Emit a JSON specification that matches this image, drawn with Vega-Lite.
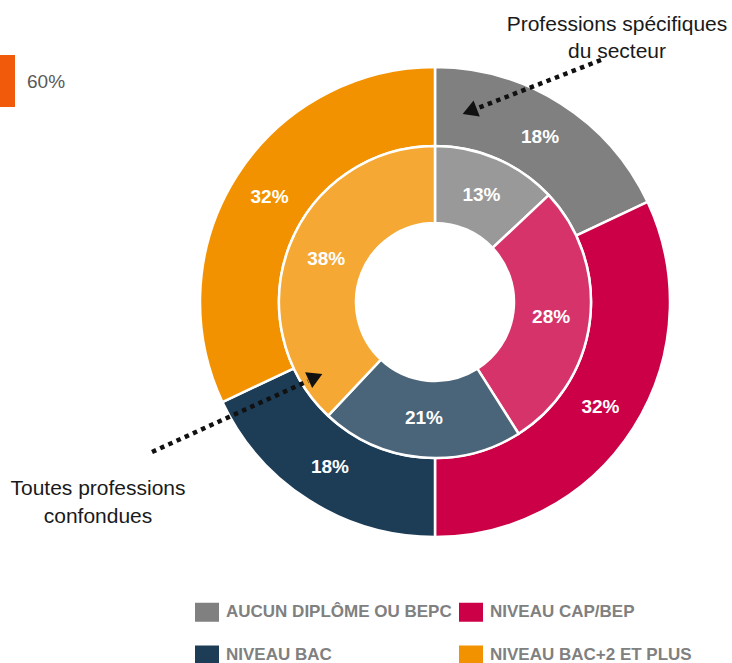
{
  "$schema": "https://vega.github.io/schema/vega-lite/v6.json",
  "width": 732,
  "height": 663,
  "autosize": {"type": "none"},
  "padding": 0,
  "background": "white",
  "config": {
    "view": {"stroke": null},
    "font": "Liberation Sans",
    "legend": {
      "orient": "none",
      "legendX": 197,
      "legendY": 602,
      "direction": "horizontal",
      "columns": 2,
      "title": null,
      "symbolType": "M-1.2,-0.95H1.2V0.95H-1.2Z",
      "symbolSize": 400,
      "symbolStrokeWidth": 0,
      "labelFont": "Liberation Sans",
      "labelFontSize": 17,
      "labelFontWeight": "bold",
      "labelColor": "#808080",
      "labelOffset": 9,
      "labelLimit": 400,
      "rowPadding": 23,
      "columnPadding": 7
    }
  },
  "data": {
    "values": [
      {"population": "Professions spécifiques du secteur", "niveau": "Aucun diplôme ou BEPC", "rang": 1, "part": 0.18},
      {"population": "Professions spécifiques du secteur", "niveau": "Niveau CAP/BEP", "rang": 2, "part": 0.32},
      {"population": "Professions spécifiques du secteur", "niveau": "Niveau Bac", "rang": 3, "part": 0.18},
      {"population": "Professions spécifiques du secteur", "niveau": "Niveau Bac+2 et plus", "rang": 4, "part": 0.32},
      {"population": "Toutes professions confondues", "niveau": "Aucun diplôme ou BEPC", "rang": 1, "part": 0.13},
      {"population": "Toutes professions confondues", "niveau": "Niveau CAP/BEP", "rang": 2, "part": 0.28},
      {"population": "Toutes professions confondues", "niveau": "Niveau Bac", "rang": 3, "part": 0.21},
      {"population": "Toutes professions confondues", "niveau": "Niveau Bac+2 et plus", "rang": 4, "part": 0.38}
    ]
  },
  "layer": [
    {
      "transform": [{"filter": "datum.population === 'Professions spécifiques du secteur'"}],
      "mark": {"type": "arc", "radius": 235, "radius2": 156, "stroke": "white", "strokeWidth": 2.5},
      "encoding": {
        "x": {"datum": 435, "type": "quantitative", "scale": {"domain": [0, 732], "nice": false, "zero": false}, "axis": null},
        "y": {"datum": 302, "type": "quantitative", "scale": {"domain": [0, 663], "nice": false, "zero": false, "reverse": true}, "axis": null},
        "theta": {"field": "part", "type": "quantitative", "stack": true},
        "order": {"field": "rang", "type": "quantitative"},
        "color": {
          "field": "niveau",
          "type": "nominal",
          "scale": {
            "domain": ["Aucun diplôme ou BEPC", "Niveau CAP/BEP", "Niveau Bac", "Niveau Bac+2 et plus"],
            "range": ["#808080", "#CC0046", "#1D3D57", "#F29200"]
          },
          "legend": {
            "labelExpr": "upper(datum.label)",
            "encode": {
              "symbols": {
                "fill": {"value": {"expr": "datum.value === 'Aucun diplôme ou BEPC' ? '#666666' : scale('color', datum.value)"}},
                "fillOpacity": {"value": 1},
                "opacity": {"value": 1}
              }
            }
          }
        }
      }
    },
    {
      "transform": [{"filter": "datum.population === 'Toutes professions confondues'"}],
      "mark": {"type": "arc", "radius": 156, "radius2": 79, "stroke": "white", "strokeWidth": 2.5, "fillOpacity": 0.8},
      "encoding": {
        "x": {"datum": 435, "type": "quantitative"},
        "y": {"datum": 302, "type": "quantitative"},
        "theta": {"field": "part", "type": "quantitative", "stack": true},
        "order": {"field": "rang", "type": "quantitative"},
        "color": {"field": "niveau", "type": "nominal"}
      }
    },
    {
      "transform": [{"filter": "datum.population === 'Professions spécifiques du secteur'"}],
      "mark": {"type": "text", "radius": 196, "color": "white", "fontWeight": "bold", "fontSize": 19, "align": "center", "baseline": "middle"},
      "encoding": {
        "x": {"datum": 435, "type": "quantitative"},
        "y": {"datum": 302, "type": "quantitative"},
        "theta": {"field": "part", "type": "quantitative", "stack": true},
        "order": {"field": "rang", "type": "quantitative"},
        "text": {"field": "part", "type": "quantitative", "format": ".0%"}
      }
    },
    {
      "transform": [{"filter": "datum.population === 'Toutes professions confondues'"}],
      "mark": {"type": "text", "radius": 117, "color": "white", "fontWeight": "bold", "fontSize": 19, "align": "center", "baseline": "middle"},
      "encoding": {
        "x": {"datum": 435, "type": "quantitative"},
        "y": {"datum": 302, "type": "quantitative"},
        "theta": {"field": "part", "type": "quantitative", "stack": true},
        "order": {"field": "rang", "type": "quantitative"},
        "text": {"field": "part", "type": "quantitative", "format": ".0%"}
      }
    },
    {
      "data": {"values": [{}]},
      "mark": {"type": "rule", "color": "#111111", "strokeWidth": 4.5, "strokeDash": [4.5, 4.5], "strokeCap": "butt"},
      "encoding": {
        "x": {"datum": 601, "type": "quantitative"},
        "y": {"datum": 60, "type": "quantitative"},
        "x2": {"datum": 478},
        "y2": {"datum": 108}
      }
    },
    {
      "data": {"values": [{}]},
      "mark": {"type": "point", "shape": "triangle", "filled": true, "size": 300, "angle": 249, "color": "#111111", "opacity": 1},
      "encoding": {
        "x": {"datum": 472, "type": "quantitative"},
        "y": {"datum": 110.3, "type": "quantitative"}
      }
    },
    {
      "data": {"values": [{}]},
      "mark": {"type": "rule", "color": "#111111", "strokeWidth": 4.5, "strokeDash": [4.5, 4.5], "strokeCap": "butt"},
      "encoding": {
        "x": {"datum": 152, "type": "quantitative"},
        "y": {"datum": 452, "type": "quantitative"},
        "x2": {"datum": 308},
        "y2": {"datum": 381}
      }
    },
    {
      "data": {"values": [{}]},
      "mark": {"type": "point", "shape": "triangle", "filled": true, "size": 300, "angle": 66, "color": "#111111", "opacity": 1},
      "encoding": {
        "x": {"datum": 313.2, "type": "quantitative"},
        "y": {"datum": 378.1, "type": "quantitative"}
      }
    },
    {
      "data": {"values": [{}]},
      "mark": {"type": "text", "text": ["Professions spécifiques", "du secteur"], "fontSize": 21, "lineHeight": 27, "color": "#1a1a1a", "align": "center", "baseline": "alphabetic"},
      "encoding": {
        "x": {"datum": 617, "type": "quantitative"},
        "y": {"datum": 31, "type": "quantitative"}
      }
    },
    {
      "data": {"values": [{}]},
      "mark": {"type": "text", "text": ["Toutes professions", "confondues"], "fontSize": 21, "lineHeight": 28, "color": "#1a1a1a", "align": "center", "baseline": "alphabetic"},
      "encoding": {
        "x": {"datum": 98, "type": "quantitative"},
        "y": {"datum": 495, "type": "quantitative"}
      }
    },
    {
      "data": {"values": [{}]},
      "mark": {"type": "rect", "color": "#F05A0A"},
      "encoding": {
        "x": {"datum": 0, "type": "quantitative"},
        "x2": {"datum": 15},
        "y": {"datum": 55, "type": "quantitative"},
        "y2": {"datum": 107}
      }
    },
    {
      "data": {"values": [{}]},
      "mark": {"type": "text", "text": "60%", "fontSize": 19, "color": "#595959", "align": "left", "baseline": "alphabetic"},
      "encoding": {
        "x": {"datum": 27, "type": "quantitative"},
        "y": {"datum": 88, "type": "quantitative"}
      }
    }
  ]
}
